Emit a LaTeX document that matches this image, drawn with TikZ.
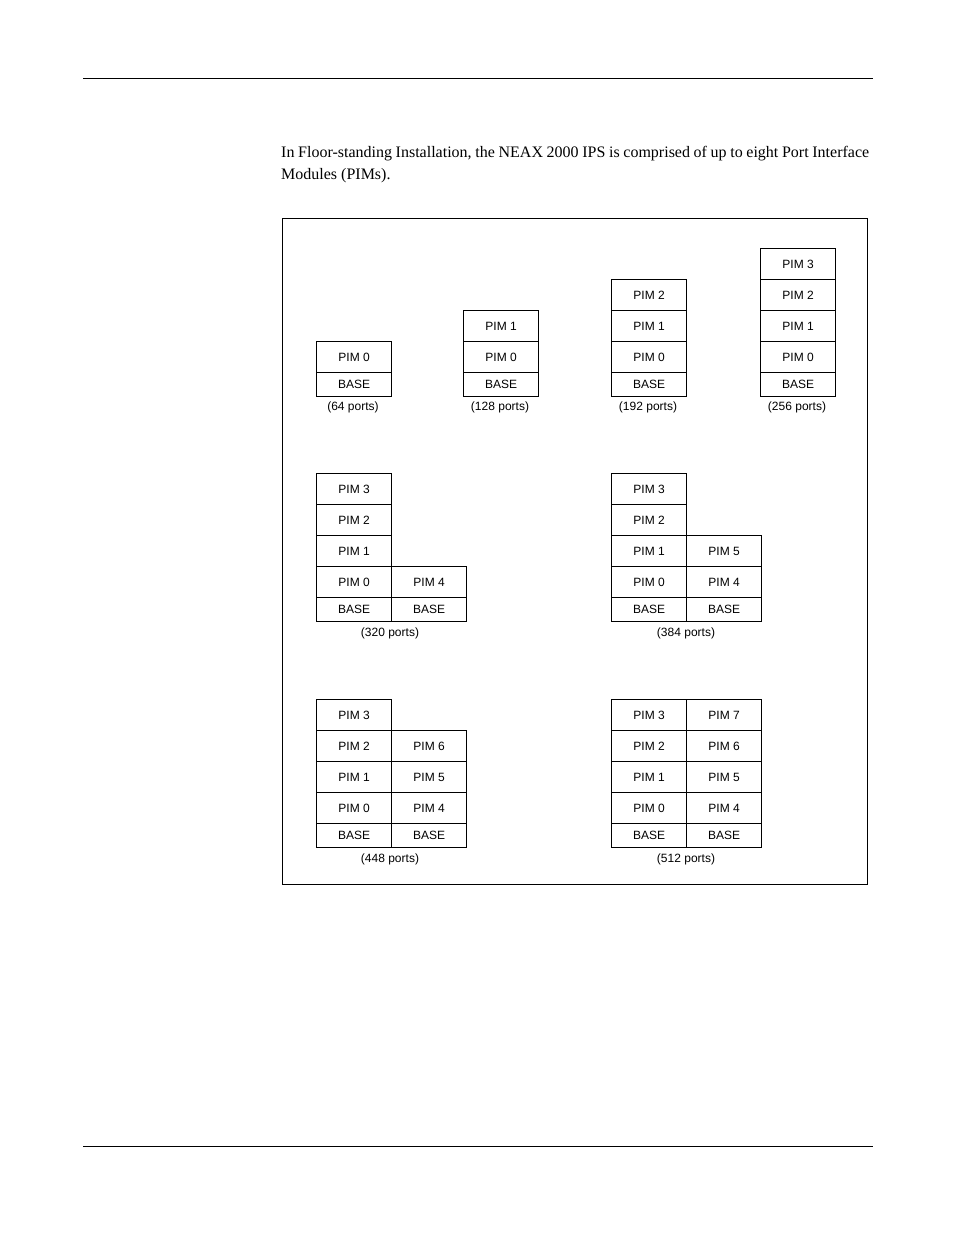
\documentclass[tikz,border=0pt]{standalone}
\usepackage{fontspec}
\setmainfont{Liberation Serif}
\newfontfamily\arial{Liberation Sans}
\begin{document}
\begin{tikzpicture}[x=1pt,y=-1pt,
  cell/.style={draw,line width=1.2pt,anchor=north west,minimum width=75pt,inner sep=0pt,font=\arial\fontsize{12}{14}\selectfont},
  pim/.style={cell,minimum height=31pt},
  base/.style={cell,minimum height=24pt},
  lbl/.style={font=\arial\fontsize{12}{14}\selectfont}]
\useasboundingbox (0,0) rectangle (954,1235);
\draw[line width=0.8pt] (83,78) -- (873,78);
\draw[line width=0.8pt] (83,1146) -- (873,1146);
\node[anchor=north west,inner sep=0pt,text width=588pt,align=justify,font=\fontsize{16}{22}\selectfont] (para) at (281,146) {In Floor-standing Installation, the NEAX 2000 IPS is comprised of up to eight Port Interface Modules (PIMs).};
\draw[line width=0.8pt] (282,218) rectangle (867,884);
% 64
\node[pim] (a0) at (316,341) {PIM 0};
\node[base] (ab) at (316,372) {BASE};
\node[lbl] (al) at (353,407) {(64 ports)};
% 128
\node[pim] (b1) at (463,310) {PIM 1};
\node[pim] (b0) at (463,341) {PIM 0};
\node[base] (bb) at (463,372) {BASE};
\node[lbl] (bl) at (500,407) {(128 ports)};
% 192
\node[pim] (c2) at (611,279) {PIM 2};
\node[pim] (c1) at (611,310) {PIM 1};
\node[pim] (c0) at (611,341) {PIM 0};
\node[base] (cb) at (611,372) {BASE};
\node[lbl] (cl) at (648,407) {(192 ports)};
% 256
\node[pim] (d3) at (760,248) {PIM 3};
\node[pim] (d2) at (760,279) {PIM 2};
\node[pim] (d1) at (760,310) {PIM 1};
\node[pim] (d0) at (760,341) {PIM 0};
\node[base] (db) at (760,372) {BASE};
\node[lbl] (dl) at (797,407) {(256 ports)};
% 320
\node[pim] (e3) at (316,473) {PIM 3};
\node[pim] (e2) at (316,504) {PIM 2};
\node[pim] (e1) at (316,535) {PIM 1};
\node[pim] (e0) at (316,566) {PIM 0};
\node[base] (eb) at (316,597) {BASE};
\node[pim] (e4) at (391,566) {PIM 4};
\node[base] (eb2) at (391,597) {BASE};
\node[lbl] (el) at (390,633) {(320 ports)};
% 384
\node[pim] (f3) at (611,473) {PIM 3};
\node[pim] (f2) at (611,504) {PIM 2};
\node[pim] (f1) at (611,535) {PIM 1};
\node[pim] (f0) at (611,566) {PIM 0};
\node[base] (fb) at (611,597) {BASE};
\node[pim] (f5) at (686,535) {PIM 5};
\node[pim] (f4) at (686,566) {PIM 4};
\node[base] (fb2) at (686,597) {BASE};
\node[lbl] (fl) at (686,633) {(384 ports)};
% 448
\node[pim] (g3) at (316,699) {PIM 3};
\node[pim] (g2) at (316,730) {PIM 2};
\node[pim] (g1) at (316,761) {PIM 1};
\node[pim] (g0) at (316,792) {PIM 0};
\node[base] (gb) at (316,823) {BASE};
\node[pim] (g6) at (391,730) {PIM 6};
\node[pim] (g5) at (391,761) {PIM 5};
\node[pim] (g4) at (391,792) {PIM 4};
\node[base] (gb2) at (391,823) {BASE};
\node[lbl] (gl) at (390,859) {(448 ports)};
% 512
\node[pim] (h3) at (611,699) {PIM 3};
\node[pim] (h2) at (611,730) {PIM 2};
\node[pim] (h1) at (611,761) {PIM 1};
\node[pim] (h0) at (611,792) {PIM 0};
\node[base] (hb) at (611,823) {BASE};
\node[pim] (h7) at (686,699) {PIM 7};
\node[pim] (h6) at (686,730) {PIM 6};
\node[pim] (h5) at (686,761) {PIM 5};
\node[pim] (h4) at (686,792) {PIM 4};
\node[base] (hb2) at (686,823) {BASE};
\node[lbl] (hl) at (686,859) {(512 ports)};
\end{tikzpicture}
\end{document}
